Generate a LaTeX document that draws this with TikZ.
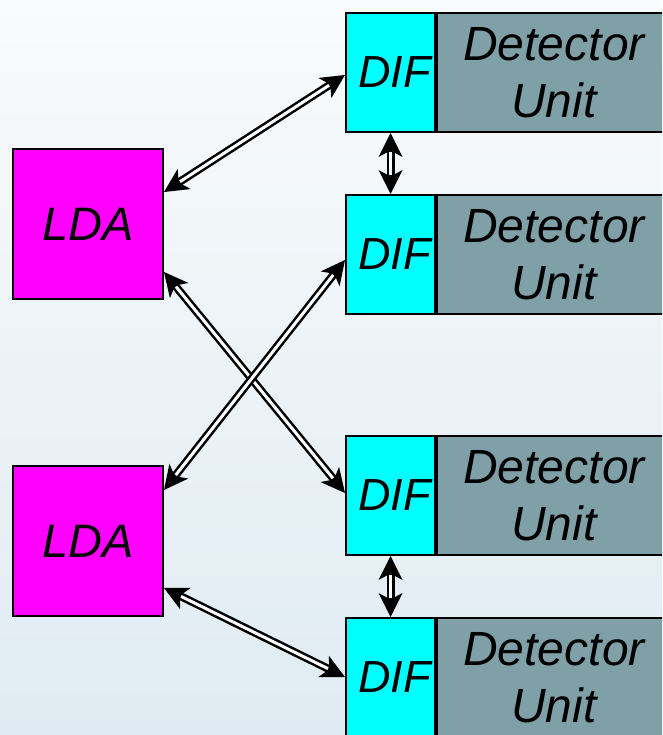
\documentclass[tikz,border=0pt]{standalone}
\usepackage{fontspec}
\setmainfont{Liberation Sans}
\usetikzlibrary{arrows.meta}
\definecolor{bgtop}{RGB}{249,251,252}
\definecolor{bgbot}{RGB}{223,235,242}
\definecolor{ldacol}{RGB}{255,0,255}
\definecolor{difcol}{RGB}{0,255,255}
\definecolor{ducol}{RGB}{128,160,168}
\begin{document}
\begin{tikzpicture}[x=1pt,y=-1pt,
  box/.style={draw=black, line width=2pt, inner sep=0pt, anchor=north west, align=center,
    font=\itshape\fontsize{48}{57}\selectfont},
  ldabox/.style={box, fill=ldacol, minimum width=150pt, minimum height=150pt,
    font=\itshape\fontsize{47}{57}\selectfont},
  difbox/.style={box, fill=difcol, minimum width=89pt, minimum height=119pt,
    font=\itshape\fontsize{45}{50}\selectfont},
  dubox/.style={box, fill=ducol, minimum width=234pt, minimum height=119pt},
  conn/.style={line width=8pt, {Stealth[length=24pt,width=24pt,inset=6.5pt,line width=0pt]}-{Stealth[length=24pt,width=24pt,inset=6.5pt,line width=0pt]},
    postaction={draw=white, line width=3pt, arrows=-, shorten <=19pt, shorten >=19pt}}
]
\useasboundingbox (0,0) rectangle (662,735);
\clip (0,0) rectangle (662,735);
\shade[top color=bgtop, bottom color=bgbot] (0,0) rectangle (662,735);

% LDA boxes
\node[ldabox] (lda1) at (12,148) {LDA};
\node[ldabox] (lda2) at (12,465) {LDA};

% Detector units
\node[dubox] (du1) at (436,12) {Detector\\Unit};
\node[dubox] (du2) at (436,194) {Detector\\Unit};
\node[dubox] (du3) at (436,435) {Detector\\Unit};
\node[dubox] (du4) at (436,617) {Detector\\Unit};

% DIF boxes
\node[difbox] (dif1) at (345,12) {\kern8pt DIF};
\node[difbox] (dif2) at (345,194) {\kern8pt DIF};
\node[difbox] (dif3) at (345,435) {\kern8pt DIF};
\node[difbox] (dif4) at (345,617) {\kern8pt DIF};

% connectors
\draw[conn] ([yshift=-44pt]lda1.north east) -- ([yshift=-63pt]dif1.north west);
\draw[conn] ([yshift=-124pt]lda1.north east) -- ([yshift=-58pt]dif3.north west);
\draw[conn] ([yshift=-25pt]lda2.north east) -- ([yshift=-66pt]dif2.north west);
\draw[conn] ([yshift=-123pt]lda2.north east) -- ([yshift=-60pt]dif4.north west);
\draw[conn] (dif1.south) -- (dif2.north);
\draw[conn] (dif3.south) -- (dif4.north);
\end{tikzpicture}
\end{document}
